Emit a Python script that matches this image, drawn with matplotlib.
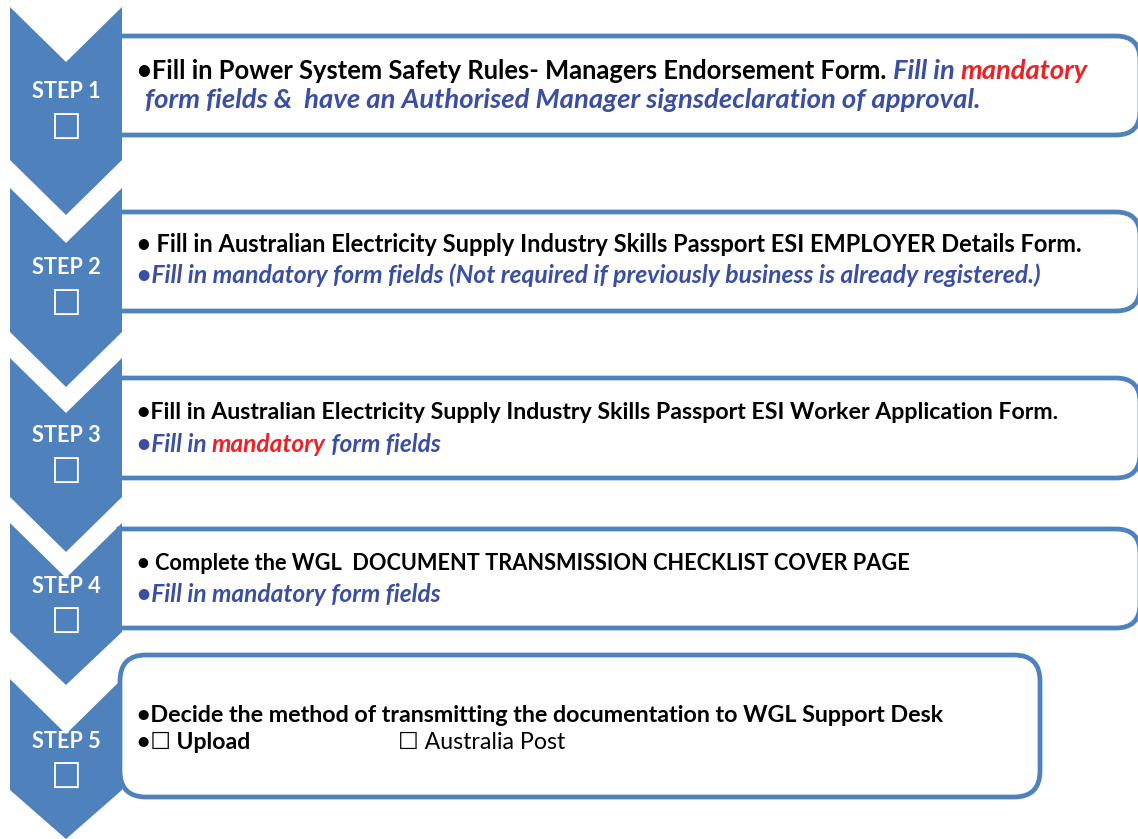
import matplotlib
matplotlib.use("Agg")
import matplotlib.pyplot as plt
from matplotlib.patches import Polygon, PathPatch, FancyBboxPatch
from matplotlib.path import Path

# ---------------- data ----------------
step_labels = ["STEP 1", "STEP 2", "STEP 3", "STEP 4", "STEP 5"]
checkbox = "\u2610"

# each line: list of (text, style) ; style: b=bold black, bi=bold italic blue,
# r=bold italic red, n=regular black
box1_lines = [
    [("\u2022Fill in Power System Safety Rules- Managers Endorsement Form. ", "b"),
     ("Fill in ", "bi"), ("mandatory", "r")],
    [("form fields &  have an Authorised Manager signsdeclaration of approval.", "bi")],
]
box2_lines = [
    [("\u2022 Fill in Australian Electricity Supply Industry Skills Passport ESI EMPLOYER Details Form.", "b")],
    [("\u2022Fill in mandatory form fields (Not required if previously business is already registered.)", "bi")],
]
box3_lines = [
    [("\u2022Fill in Australian Electricity Supply Industry Skills Passport ESI Worker Application Form.", "b")],
    [("\u2022Fill in ", "bi"), ("mandatory", "r"), (" form fields", "bi")],
]
box4_lines = [
    [("\u2022 Complete the WGL  DOCUMENT TRANSMISSION CHECKLIST COVER PAGE", "b")],
    [("\u2022Fill in mandatory form fields", "bi")],
]
box5_lines = [
    [("\u2022Decide the method of transmitting the documentation to WGL Support Desk", "b")],
    [("\u2022" + checkbox + " Upload", "b")],
]
box5_extra = [(checkbox + " Australia Post", "n")]
all_lines = [box1_lines, box2_lines, box3_lines, box4_lines, box5_lines]

# ---------------- layout (pixels) ----------------
W, H = 1138, 839
BLUE = "#4F81BD"
TXT_BLUE = "#3A4EA3"
TXT_RED = "#EC2227"
FAM = ["Lato", "DejaVu Sans"]

chev_top = [7, 188, 358, 523, 679]
chev_side = [160, 332, 497, 632, 790]
chev_tip = [215, 387, 552, 685, 839]
notch = 55
cx, hw = 66, 56

boxes = [(119, 36, 1140, 135), (119, 212, 1140, 311), (119, 378, 1140, 478),
         (119, 529, 1140, 628), (120, 655, 1040, 797)]
baselines = [(79, 108), (252, 283), (419, 452), (570, 602), (722, 749)]
line_x = [(137, 145), (137, 137), (137, 137), (137, 137), (137, 137)]
line_end = [(1088, 980), (1080, 1043), (1056, 440), (908, 440), (942, 250)]
step_base = [98, 274, 442, 593, 748]
check_center = [129, 305, 473, 623, 778]

fig = plt.figure(figsize=(W / 100, H / 100), dpi=100)
ax = fig.add_axes([0, 0, 1, 1])
ax.set_xlim(0, W)
ax.set_ylim(H, 0)
ax.axis("off")
renderer = fig.canvas.get_renderer()

styles = {
    "b": dict(color="black", fontweight="bold", fontstyle="normal"),
    "bi": dict(color=TXT_BLUE, fontweight="bold", fontstyle="italic"),
    "r": dict(color=TXT_RED, fontweight="bold", fontstyle="italic"),
    "n": dict(color="black", fontweight="normal", fontstyle="normal"),
}
size_fac = {"b": 1.0, "bi": 1.07, "r": 1.07, "n": 1.0}

# base font size fitted to the reference line width (919 px)
probe = ax.text(0, 0, box3_lines[0][0][0], fontsize=10, family=FAM, fontweight="bold")
pw = probe.get_window_extent(renderer).width
probe.remove()
FS = 10 * 919 / pw


def right_rounded_box(x0, y0, x1, y1, r):
    verts = [(x0, y0), (x1 - r, y0), (x1, y0), (x1, y0 + r), (x1, y1 - r),
             (x1, y1), (x1 - r, y1), (x0, y1), (x0, y0)]
    codes = [Path.MOVETO, Path.LINETO, Path.CURVE3, Path.CURVE3, Path.LINETO,
             Path.CURVE3, Path.CURVE3, Path.LINETO, Path.CLOSEPOLY]
    return Path(verts, codes)


# boxes
for i, (x0, y0, x1, y1) in enumerate(boxes):
    if i < 4:
        p = PathPatch(right_rounded_box(x0, y0, x1, y1, 24), facecolor="white",
                      edgecolor=BLUE, linewidth=3.4, zorder=1)
    else:
        p = FancyBboxPatch((x0, y0), x1 - x0, y1 - y0,
                           boxstyle="round,pad=0,rounding_size=26",
                           facecolor="white", edgecolor=BLUE, linewidth=3.4, zorder=3)
    ax.add_patch(p)

# chevrons
for i in range(5):
    t, s, tip = chev_top[i], chev_side[i], chev_tip[i]
    pts = [(cx - hw, t), (cx, t + notch), (cx + hw, t), (cx + hw, s), (cx, tip), (cx - hw, s)]
    ax.add_patch(Polygon(pts, closed=True, facecolor=BLUE, edgecolor="none", zorder=2))
    ax.text(cx, step_base[i], step_labels[i], color="white", fontsize=FS * 0.94,
            fontweight="bold", family=FAM, ha="center", va="baseline", zorder=5)
    ax.text(cx, check_center[i], checkbox, color="white", fontsize=FS * 1.5,
            fontweight="bold", family=["DejaVu Sans"], ha="center", va="center", zorder=5)


def draw_line(x, y, segs, x_end):
    # first pass: measure
    arts, w = [], 0
    for txt, st in segs:
        t = ax.text(0, 0, txt, fontsize=FS * size_fac[st], family=FAM, **styles[st])
        w += t.get_window_extent(renderer).width
        arts.append(t)
    for a in arts:
        a.remove()
    k = (x_end - x) / w
    for txt, st in segs:
        t = ax.text(x, y, txt, fontsize=FS * size_fac[st] * k, family=FAM, ha="left",
                    va="baseline", zorder=6, **styles[st])
        x += t.get_window_extent(renderer).width


for i, lines in enumerate(all_lines):
    for j, segs in enumerate(lines):
        draw_line(line_x[i][j], baselines[i][j], segs, line_end[i][j])

draw_line(398, baselines[4][1], box5_extra, 565)

fig.savefig("out.png", dpi=100, facecolor="white")
